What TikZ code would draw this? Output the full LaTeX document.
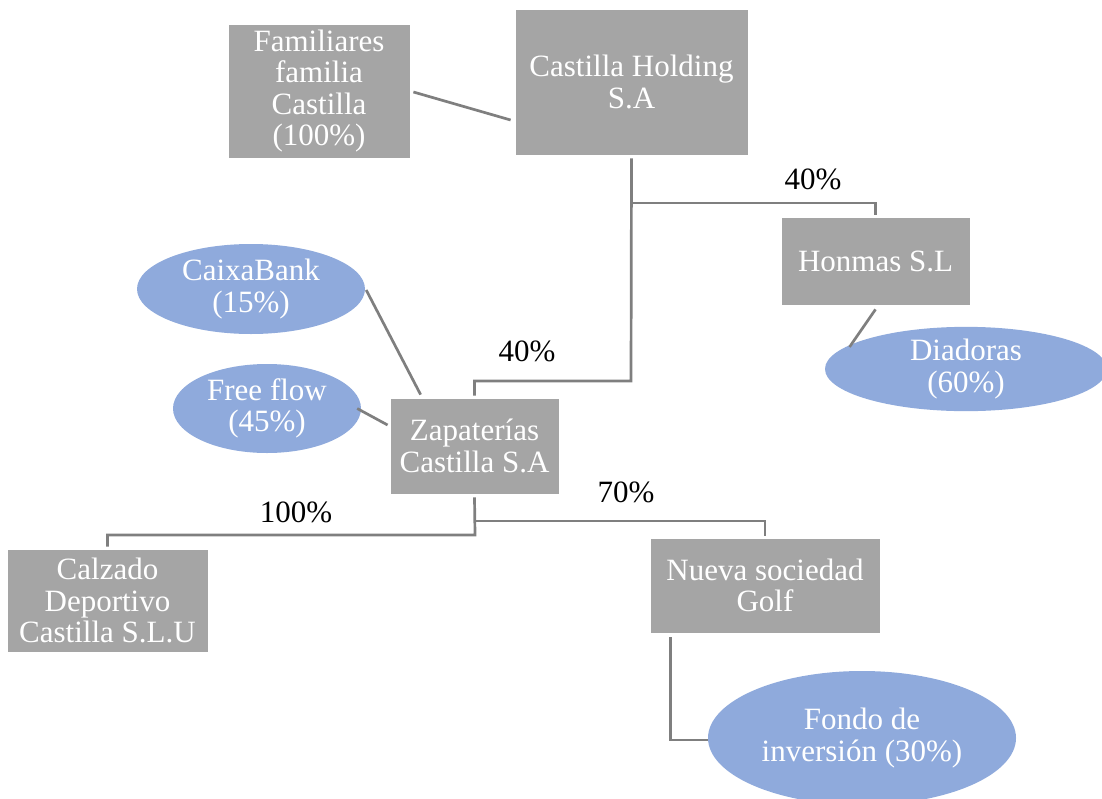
\documentclass[tikz,border=0pt]{standalone}
\usepackage{fontspec}
\setmainfont{Liberation Serif}
\usetikzlibrary{shapes.geometric,calc}
\definecolor{boxgray}{HTML}{A5A5A5}
\definecolor{ellblue}{HTML}{8FAADC}
\definecolor{linegray}{HTML}{7F7F7F}
\begin{document}
\begin{tikzpicture}[x=1pt,y=-1pt,
  every node/.style={font=\fontsize{31}{31.5}\selectfont},
  gbox/.style={rectangle,fill=boxgray,draw=white,line width=0.8pt,text=white,align=center,inner sep=0pt},
  bell/.style={ellipse,fill=ellblue,text=white,align=center,inner sep=0pt},
  conn/.style={draw=linegray,line width=2.7pt},
  pct/.style={text=black}]
\useasboundingbox (0,0) rectangle (1102,798);
% boxes
\node[gbox,minimum width=182pt,minimum height=134pt] (fam) at (319,91) {Familiares\\familia\\Castilla\\(100\%)};
\node[gbox,minimum width=233pt,minimum height=146pt] (hold) at (631.5,82) {Castilla Holding\\S.A};
\node[gbox,minimum width=189pt,minimum height=88pt] (hon) at (875.5,261) {Honmas S.L};
\node[gbox,minimum width=169pt,minimum height=96pt] (zap) at (474.5,446) {Zapaterías\\Castilla S.A};
\node[gbox,minimum width=201pt,minimum height=103pt] (cal) at (107.5,600.5) {Calzado\\Deportivo\\Castilla S.L.U};
\node[gbox,minimum width=230pt,minimum height=95pt] (nue) at (765,585.5) {Nueva sociedad\\Golf};
% ellipses
\node[bell,minimum width=228pt,minimum height=90pt] (cai) at (251,289) {CaixaBank\\(15\%)};
\node[bell,minimum width=188pt,minimum height=89pt] (ff) at (267,408.5) {Free flow\\(45\%)};
\node[bell,minimum width=282pt,minimum height=84pt] (dia) at (966,369) {Diadoras\\(60\%)};
\node[bell,minimum width=308pt,minimum height=134pt] (fon) at (862,738) {Fondo de\\inversión (30\%)};
% junctions
\coordinate (j1) at (631,203);
\coordinate (j2) at (631,381);
\coordinate (j3) at (475,521);
\coordinate (j4) at (475,535);
\coordinate (j5) at (671,740);
% connectors
\draw[conn] ($(fam.east)+(3,1)$) -- ($(hold.west)+(-4,38)$);
\draw[conn] ([yshift=-3pt]hold.south) -- (j2) -| ([yshift=2pt]zap.north);
\draw[conn] (j1) -| ([yshift=2pt]hon.north);
\draw[conn] ($(hon.south)+(0,4)$) -- ($(dia.169)+(2,1)$);
\draw[conn] ($(cai.east)+(1,1)$) -- ($(zap.north west)+(31,-3)$);
\draw[conn] ($(ff.east)+(-4,0)$) -- ($(zap.west)+(-2,-21)$);
\draw[conn] ([yshift=-3pt]zap.south) -- (j4) -| ([yshift=2pt]cal.north);
\draw[conn] (j3) -| ([yshift=2pt]nue.north);
\draw[conn] ($(nue.south west)+(21,4)$) |- (j5) -- (j5 -| fon.west);
% labels
\node[pct] (l1) at (813,179) {40\%};
\node[pct] (l2) at (527,351) {40\%};
\node[pct] (l3) at (296,512) {100\%};
\node[pct] (l4) at (626,492) {70\%};
\end{tikzpicture}
\end{document}
